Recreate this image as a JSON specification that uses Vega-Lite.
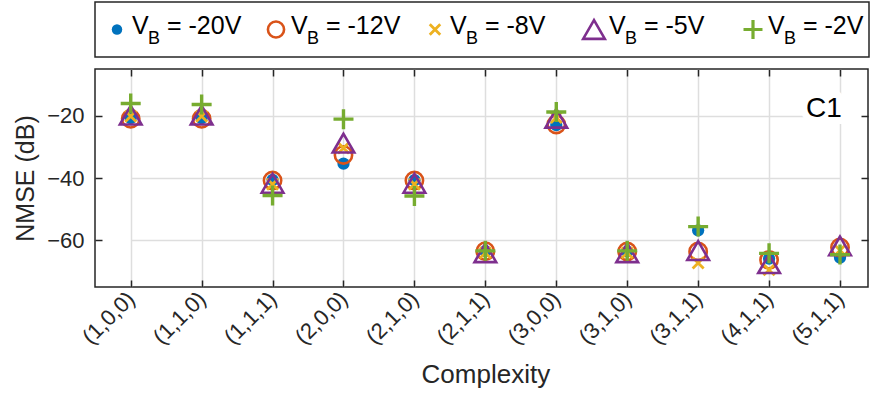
{
  "$schema": "https://vega.github.io/schema/vega-lite/v6.json",
  "padding": {"left": 12, "top": 1, "right": 0, "bottom": 0},
  "background": "white",
  "bounds": "flush",
  "spacing": 12,
  "config": {
    "font": "Liberation Sans",
    "view": {"stroke": "#262626", "strokeWidth": 1.5},
    "axis": {"labelColor": "#262626", "titleColor": "#262626", "labelFont": "Liberation Sans", "titleFont": "Liberation Sans", "titleFontWeight": "normal"}
  },
  "datasets": {
    "nmse": [
      {"c": "(1,0,0)", "vb": "-20V", "nmse": -20.8}, {"c": "(1,0,0)", "vb": "-12V", "nmse": -21.0}, {"c": "(1,0,0)", "vb": "-8V", "nmse": -20.2}, {"c": "(1,0,0)", "vb": "-5V", "nmse": -19.8}, {"c": "(1,0,0)", "vb": "-2V", "nmse": -16.1},
      {"c": "(1,1,0)", "vb": "-20V", "nmse": -20.8}, {"c": "(1,1,0)", "vb": "-12V", "nmse": -21.0}, {"c": "(1,1,0)", "vb": "-8V", "nmse": -20.2}, {"c": "(1,1,0)", "vb": "-5V", "nmse": -19.8}, {"c": "(1,1,0)", "vb": "-2V", "nmse": -16.4},
      {"c": "(1,1,1)", "vb": "-20V", "nmse": -40.6}, {"c": "(1,1,1)", "vb": "-12V", "nmse": -40.8}, {"c": "(1,1,1)", "vb": "-8V", "nmse": -42.0}, {"c": "(1,1,1)", "vb": "-5V", "nmse": -41.7}, {"c": "(1,1,1)", "vb": "-2V", "nmse": -45.6},
      {"c": "(2,0,0)", "vb": "-20V", "nmse": -35.4}, {"c": "(2,0,0)", "vb": "-12V", "nmse": -32.6}, {"c": "(2,0,0)", "vb": "-8V", "nmse": -30.4}, {"c": "(2,0,0)", "vb": "-5V", "nmse": -28.8}, {"c": "(2,0,0)", "vb": "-2V", "nmse": -21.1},
      {"c": "(2,1,0)", "vb": "-20V", "nmse": -40.7}, {"c": "(2,1,0)", "vb": "-12V", "nmse": -40.8}, {"c": "(2,1,0)", "vb": "-8V", "nmse": -42.0}, {"c": "(2,1,0)", "vb": "-5V", "nmse": -41.7}, {"c": "(2,1,0)", "vb": "-2V", "nmse": -45.8},
      {"c": "(2,1,1)", "vb": "-20V", "nmse": -63.5}, {"c": "(2,1,1)", "vb": "-12V", "nmse": -63.5}, {"c": "(2,1,1)", "vb": "-8V", "nmse": -64.0}, {"c": "(2,1,1)", "vb": "-5V", "nmse": -64.0}, {"c": "(2,1,1)", "vb": "-2V", "nmse": -63.4},
      {"c": "(3,0,0)", "vb": "-20V", "nmse": -23.0}, {"c": "(3,0,0)", "vb": "-12V", "nmse": -22.8}, {"c": "(3,0,0)", "vb": "-8V", "nmse": -20.6}, {"c": "(3,0,0)", "vb": "-5V", "nmse": -20.8}, {"c": "(3,0,0)", "vb": "-2V", "nmse": -18.8},
      {"c": "(3,1,0)", "vb": "-20V", "nmse": -63.6}, {"c": "(3,1,0)", "vb": "-12V", "nmse": -63.6}, {"c": "(3,1,0)", "vb": "-8V", "nmse": -64.0}, {"c": "(3,1,0)", "vb": "-5V", "nmse": -64.0}, {"c": "(3,1,0)", "vb": "-2V", "nmse": -63.4},
      {"c": "(3,1,1)", "vb": "-20V", "nmse": -56.8}, {"c": "(3,1,1)", "vb": "-12V", "nmse": -63.6}, {"c": "(3,1,1)", "vb": "-8V", "nmse": -67.3}, {"c": "(3,1,1)", "vb": "-5V", "nmse": -63.3}, {"c": "(3,1,1)", "vb": "-2V", "nmse": -55.6},
      {"c": "(4,1,1)", "vb": "-20V", "nmse": -65.9}, {"c": "(4,1,1)", "vb": "-12V", "nmse": -66.3}, {"c": "(4,1,1)", "vb": "-8V", "nmse": -69.5}, {"c": "(4,1,1)", "vb": "-5V", "nmse": -67.5}, {"c": "(4,1,1)", "vb": "-2V", "nmse": -64.2},
      {"c": "(5,1,1)", "vb": "-20V", "nmse": -65.6}, {"c": "(5,1,1)", "vb": "-12V", "nmse": -62.3}, {"c": "(5,1,1)", "vb": "-8V", "nmse": -63.2}, {"c": "(5,1,1)", "vb": "-5V", "nmse": -61.8}, {"c": "(5,1,1)", "vb": "-2V", "nmse": -64.6}
    ],
    "series": [
      {"vb": "-20V", "label": "= -20V"},
      {"vb": "-12V", "label": "= -12V"},
      {"vb": "-8V", "label": "= -8V"},
      {"vb": "-5V", "label": "= -5V"},
      {"vb": "-2V", "label": "= -2V"}
    ],
    "panel": [{"name": "C1", "c": "(5,1,1)", "nmse": -18}]
  },
  "vconcat": [
    {
      "width": 774,
      "height": 55,
      "data": {"name": "series"},
      "encoding": {
        "x": {"field": "vb", "type": "nominal", "axis": null,
              "scale": {"type": "point", "domain": ["-20V", "-12V", "-8V", "-5V", "-2V"], "range": [22, 658], "padding": 0}}
      },
      "layer": [
        {"transform": [{"filter": "datum.vb == '-20V'"}],
         "mark": {"type": "point", "shape": "circle", "filled": true, "size": 110, "color": "#0072BD", "strokeWidth": 0, "opacity": 1}},
        {"transform": [{"filter": "datum.vb == '-12V'"}],
         "mark": {"type": "point", "shape": "circle", "filled": false, "size": 260, "color": "#D95319", "strokeWidth": 2.6, "opacity": 1}},
        {"transform": [{"filter": "datum.vb == '-8V'"}],
         "mark": {"type": "point", "shape": "M-1,-1L1,1M-1,1L1,-1", "filled": false, "size": 110, "color": "#EDB120", "strokeWidth": 2.8, "opacity": 1}},
        {"transform": [{"filter": "datum.vb == '-5V'"}],
         "mark": {"type": "point", "shape": "triangle-up", "filled": false, "size": 470, "color": "#7E2F8E", "strokeWidth": 2.6, "opacity": 1}},
        {"transform": [{"filter": "datum.vb == '-2V'"}],
         "mark": {"type": "point", "shape": "M-1,0L1,0M0,-1L0,1", "filled": false, "size": 360, "color": "#77AC30", "strokeWidth": 3.2, "opacity": 1}},
        {"mark": {"type": "text", "text": "V", "align": "left", "baseline": "middle", "dx": 15, "dy": -4, "fontSize": 25, "color": "#000000"}},
        {"mark": {"type": "text", "text": "B", "align": "left", "baseline": "middle", "dx": 31, "dy": 9, "fontSize": 18, "color": "#000000"}},
        {"mark": {"type": "text", "align": "left", "baseline": "middle", "dx": 50, "dy": -4, "fontSize": 25, "color": "#000000"},
         "encoding": {"text": {"field": "label"}}}
      ]
    },
    {
      "width": 773,
      "height": 218,
      "data": {"name": "nmse"},
      "resolve": {"axis": {"x": "independent", "y": "independent"}},
      "encoding": {
        "x": {"field": "c", "type": "nominal", "sort": null,
              "scale": {"type": "point", "padding": 0, "range": [35.7, 745]}, "axis": null},
        "y": {"field": "nmse", "type": "quantitative",
              "scale": {"domain": [-75, -5], "nice": false, "zero": false}, "axis": null}
      },
      "layer": [
        {
          "transform": [{"filter": "datum.vb == '-20V'"}],
          "mark": {"type": "point", "shape": "circle", "filled": true, "size": 150, "color": "#0072BD", "strokeWidth": 0, "opacity": 1},
          "encoding": {
            "x": {"field": "c", "type": "nominal", "sort": null, "title": "Complexity",
                  "axis": {"labelAngle": -45, "labelAlign": "right", "labelBaseline": "middle", "labelFontSize": 22, "titleFontSize": 26,
                           "tickSize": -7, "tickColor": "#262626", "tickWidth": 1.5, "labelPadding": 15, "titlePadding": 14, "domain": false,
                           "grid": true, "gridColor": "#dedede", "gridWidth": 1.5}},
            "y": {"field": "nmse", "type": "quantitative", "title": "NMSE (dB)",
                  "axis": {"values": [-60, -40, -20], "labelFontSize": 22, "titleFontSize": 25,
                           "tickSize": -7, "tickColor": "#262626", "tickWidth": 1.5, "labelPadding": 18, "titlePadding": 8, "domain": false,
                           "grid": true, "gridColor": "#dedede", "gridWidth": 1.5}}
          }
        },
        {"transform": [{"filter": "datum.vb == '-12V'"}],
         "mark": {"type": "point", "shape": "circle", "filled": false, "size": 300, "color": "#D95319", "strokeWidth": 2.6, "opacity": 1}},
        {"transform": [{"filter": "datum.vb == '-8V'"}],
         "mark": {"type": "point", "shape": "M-1,-1L1,1M-1,1L1,-1", "filled": false, "size": 121, "color": "#EDB120", "strokeWidth": 2.8, "opacity": 1}},
        {"transform": [{"filter": "datum.vb == '-5V'"}],
         "mark": {"type": "point", "shape": "triangle-up", "filled": false, "size": 470, "color": "#7E2F8E", "strokeWidth": 2.6, "opacity": 1}},
        {"transform": [{"filter": "datum.vb == '-2V'"}],
         "mark": {"type": "point", "shape": "M-1,0L1,0M0,-1L0,1", "filled": false, "size": 400, "color": "#77AC30", "strokeWidth": 3.4, "opacity": 1}},
        {
          "data": {"name": "panel"},
          "mark": {"type": "text", "fontSize": 28, "color": "#ffffff", "stroke": "#ffffff", "strokeWidth": 14, "strokeJoin": "round", "align": "center", "baseline": "middle", "dx": -16},
          "encoding": {
            "text": {"field": "name"},
            "x": {"field": "c", "type": "nominal", "axis": {"orient": "top", "labels": false, "title": null, "tickSize": -7, "tickColor": "#262626", "tickWidth": 1.5, "domain": false, "grid": false}},
            "y": {"field": "nmse", "type": "quantitative", "axis": {"orient": "right", "values": [-60, -40, -20], "labels": false, "title": null, "tickSize": -7, "tickColor": "#262626", "tickWidth": 1.5, "domain": false, "grid": false}}
          }
        },
        {
          "data": {"name": "panel"},
          "mark": {"type": "text", "fontSize": 28, "color": "#000000", "align": "center", "baseline": "middle", "dx": -16},
          "encoding": {"text": {"field": "name"}}
        }
      ]
    }
  ]
}
